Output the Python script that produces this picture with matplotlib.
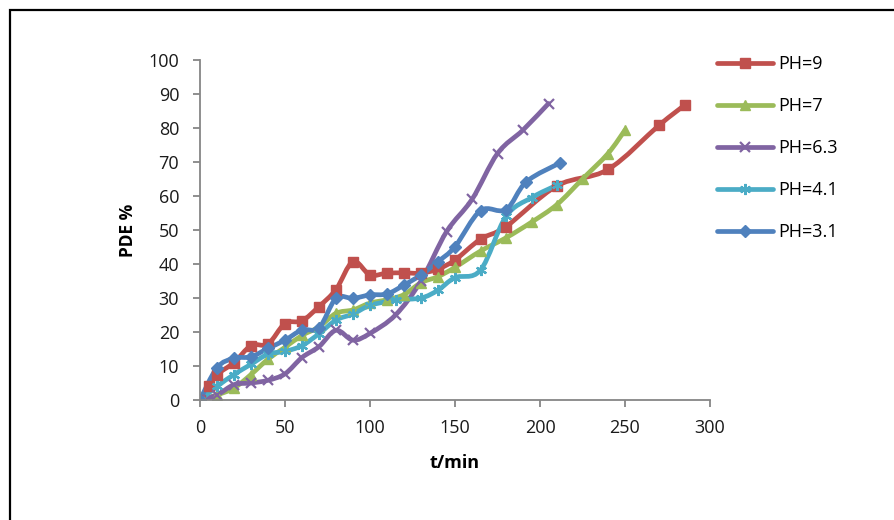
import matplotlib
matplotlib.use("Agg")
import matplotlib.pyplot as plt
from matplotlib.path import Path
from matplotlib.patches import PathPatch, Rectangle
from matplotlib.lines import Line2D
import numpy as np

plt.rcParams['font.family'] = ['Open Sans', 'DejaVu Sans']

# PDE % over time for each pH
t_ph9 = [0, 5, 10, 20, 30, 40, 50, 60, 70, 80, 90, 100, 110, 120, 130, 140, 150, 165, 180, 210, 240, 270, 285]
pde_ph9 = [0, 4, 7.5, 11, 16, 16.5, 22.5, 23.3, 27.5, 32.5, 40.7, 36.8, 37.3, 37.4, 37.3, 38.5, 41.2, 47.3, 51, 63, 67.8, 80.8, 86.7]

t_ph7 = [0, 10, 20, 30, 40, 50, 60, 70, 80, 90, 100, 110, 120, 130, 140, 150, 165, 180, 195, 210, 225, 240, 250]
pde_ph7 = [0, 1.5, 3.5, 7.5, 12, 15.5, 19, 21.5, 25.5, 26.5, 28.5, 29.5, 31, 34.5, 36.3, 39, 43.8, 47.7, 52.3, 57.5, 65, 72.5, 79.4]

t_ph63 = [0, 10, 20, 30, 40, 50, 60, 70, 80, 90, 100, 115, 130, 145, 160, 175, 190, 205]
pde_ph63 = [0, 1.5, 4.5, 5, 5.8, 7.7, 12.5, 15.7, 20.5, 17.6, 19.6, 25, 35, 49.5, 59, 72.5, 79.4, 87.2]

t_ph41 = [0, 10, 20, 30, 40, 50, 60, 70, 80, 90, 100, 115, 130, 140, 150, 165, 180, 195, 210]
pde_ph41 = [0, 4, 7.5, 10.5, 13.5, 14.3, 16, 19.5, 23.5, 25.3, 27.8, 29.4, 30, 32.3, 36, 38.2, 54, 59.5, 63.2]

t_ph31 = [0, 10, 20, 30, 40, 50, 60, 70, 80, 90, 100, 110, 120, 130, 140, 150, 165, 180, 192, 212]
pde_ph31 = [0, 9.5, 12.3, 12.7, 15.2, 17.6, 20.6, 21.2, 29.9, 29.9, 30.9, 31.2, 33.8, 36.8, 40.7, 45.1, 55.7, 56, 64.2, 69.8]

labels = ["PH=9", "PH=7", "PH=6.3", "PH=4.1", "PH=3.1"]
colors = ["#C0504D", "#9BBB59", "#8064A2", "#4BACC6", "#4F81BD"]
asterisk = (6, 2, 0)
markers = ["s", "^", "x", asterisk, "D"]
msizes = [7, 7, 7, 8, 6]

x_ticks = [0, 50, 100, 150, 200, 250, 300]
y_ticks = [0, 10, 20, 30, 40, 50, 60, 70, 80, 90, 100]


def smooth_path(x, y):
    """Cubic Bezier path through the points (Catmull-Rom style smoothing)."""
    p = np.column_stack([x, y]).astype(float)
    n = len(p)
    verts = [p[0]]
    codes = [Path.MOVETO]
    for i in range(n - 1):
        p0 = p[i - 1] if i > 0 else p[i]
        p1 = p[i]
        p2 = p[i + 1]
        p3 = p[i + 2] if i + 2 < n else p[i + 1]
        c1 = p1 + (p2 - p0) / 6.0
        c2 = p2 - (p3 - p1) / 6.0
        verts += [c1, c2, p2]
        codes += [Path.CURVE4] * 3
    return Path(verts, codes)


fig = plt.figure(figsize=(8.94, 5.2), dpi=100)
fig.patches.append(Rectangle((10 / 894, -0.1), 1.0, 1 - 10 / 520 + 0.1,
                             transform=fig.transFigure, fill=False,
                             edgecolor="black", linewidth=1.6, zorder=0))

ax = fig.add_axes([200 / 894, 120 / 520, 510 / 894, 340 / 520])

series = [(t_ph9, pde_ph9), (t_ph7, pde_ph7), (t_ph63, pde_ph63),
          (t_ph41, pde_ph41), (t_ph31, pde_ph31)]
handles = []
for (t, v), c, m, ms, lab in zip(series, colors, markers, msizes, labels):
    ax.add_patch(PathPatch(smooth_path(t, v), fill=False, edgecolor=c,
                           linewidth=3.4, capstyle="round", joinstyle="round"))
    mew = 1.6 if m in ("x", asterisk) else 1
    ax.plot(t, v, linestyle="none", marker=m, markersize=ms, color=c,
            markeredgecolor=c, markeredgewidth=mew)
    handles.append(Line2D([], [], color=c, linewidth=3.4, marker=m,
                          markersize=ms, markeredgewidth=mew,
                          solid_capstyle="round", label=lab))

ax.set_xlim(0, 300)
ax.set_ylim(0, 100)
ax.set_xticks(x_ticks)
ax.set_yticks(y_ticks)
ax.set_xlabel("t/min", fontsize=13, fontweight="bold")
ax.set_ylabel("PDE %", fontsize=12.5, fontweight="bold")
ax.xaxis.set_label_coords(0.5, -0.16)
ax.yaxis.set_label_coords(-0.123, 0.5)

for s in ("top", "right"):
    ax.spines[s].set_visible(False)
for s in ("left", "bottom"):
    ax.spines[s].set_color("#868686")
    ax.spines[s].set_linewidth(1.3)
ax.tick_params(axis="both", direction="out", length=5, width=1.3,
               color="#868686", labelsize=13, labelcolor="#1a1a1a")
ax.tick_params(axis="y", pad=10)
ax.tick_params(axis="x", pad=9)

fig.legend(handles=handles, loc="upper left",
           bbox_to_anchor=(701 / 894, 1 - 39 / 520),
           frameon=False, fontsize=13, handlelength=3.1,
           handletextpad=0.3, labelspacing=1.33)

fig.savefig("out.png", dpi=100)
